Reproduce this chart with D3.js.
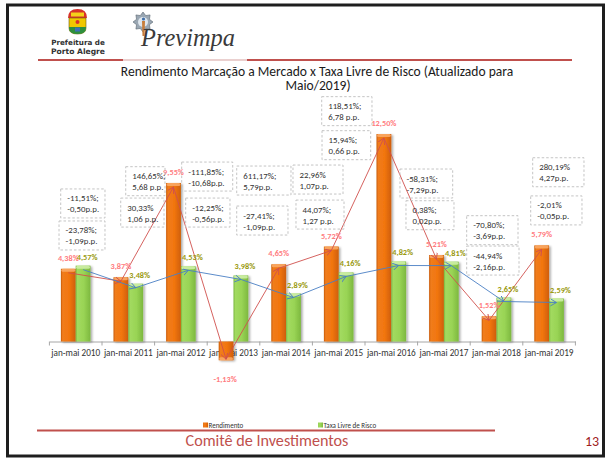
<!DOCTYPE html>
<html><head><meta charset="utf-8">
<script src="https://cdn.jsdelivr.net/npm/d3@7"></script>
<style>body{margin:0;background:#fff}svg{display:block}</style>
</head><body>
<svg id="c" width="610" height="461"></svg>
<script>
// ---------- data ----------
const categories = ["jan-mai 2010","jan-mai 2011","jan-mai 2012","jan-mai 2013","jan-mai 2014","jan-mai 2015","jan-mai 2016","jan-mai 2017","jan-mai 2018","jan-mai 2019"];
const rendimento = [4.38, 3.87, 9.55, -1.13, 4.65, 5.72, 12.50, 5.21, 1.52, 5.79];
const taxaLivre  = [4.57, 3.48, 4.53, 3.98, 2.89, 4.16, 4.82, 4.81, 2.65, 2.59];
const rendLabels = ["4,38%","3,87%","9,55%","-1,13%","4,65%","5,72%","12,50%","5,21%","1,52%","5,79%"];
const taxaLabels = ["4,57%","3,48%","4,53%","3,98%","2,89%","4,16%","4,82%","4,81%","2,65%","2,59%"];
const seriesNames = ["Rendimento","Taxa Livre de Risco"];
const chgRendimento = [["-11,51%;","-0,50p.p."],["146,65%;","5,68 p.p."],["-111,85%;","-10,68p.p."],["611,17%;","5,79p.p."],["22,96%","1,07p.p."],["118,51%;","6,78 p.p."],["-58,31%;","-7,29p.p."],["-70,80%;","-3,69p.p."],["280,19%","4,27p.p."]];
const chgTaxa = [["-23,78%;","-1,09p.p."],["30,33%","1,06 p.p."],["-12,25%;","-0,56p.p."],["-27,41%;","-1,09p.p."],["44,07%;","1,27 p.p."],["15,94%;","0,66 p.p."],["0,38%;","0,02p.p."],["-44,94%","-2,16p.p."],["-2,01%","-0,05p.p."]];
const titleLines = ["Rendimento Marcação a Mercado x Taxa Livre de Risco (Atualizado para","Maio/2019)"];
const footerText = "Comitê de Investimentos";
const pageNumber = "13";

// annotation anchors in chart units: [category start, category end, value at top]
const annotRendLayout = [[0.215,1.057,9.19],[1.451,2.198,10.53],[2.515,3.485,10.81],[3.561,4.593,10.57],[4.631,5.582,10.63],[5.177,6.133,14.75],[6.665,7.667,10.39],[7.933,8.909,7.58],[9.188,10.163,11.07]];
const annotTaxaLayout = [[0.183,1.057,7.26],[1.356,2.179,8.64],[2.591,3.433,8.64],[3.561,4.536,8.16],[4.688,5.601,8.52],[5.183,6.108,12.70],[6.779,7.692,8.48],[7.933,8.928,5.75],[9.150,10.125,8.77]];

// ---------- setup ----------
const FONT = "Carlito, Calibri, Lato, sans-serif";
const svg = d3.select("#c");
const defs = svg.append("defs");

function grad(id, stops){
  const g = defs.append("linearGradient").attr("id", id).attr("x1","0").attr("x2","1").attr("y1","0").attr("y2","0");
  stops.forEach(s => g.append("stop").attr("offset", s[0]).attr("stop-color", s[1]));
}
grad("gO", [["0%","#c85a06"],["12%","#f07c1c"],["55%","#f2760f"],["100%","#cf5e06"]]);
grad("gG", [["0%","#78b53d"],["12%","#a2da60"],["55%","#99d455"],["100%","#7db83f"]]);
const f = defs.append("filter").attr("id","sh").attr("x","-30%").attr("y","-10%").attr("width","170%").attr("height","130%");
f.append("feDropShadow").attr("dx",1.6).attr("dy",1).attr("stdDeviation",1).attr("flood-color","#000").attr("flood-opacity",0.35);

function marker(id, color){
  defs.append("marker").attr("id", id).attr("markerUnits","userSpaceOnUse")
    .attr("markerWidth",10).attr("markerHeight",10).attr("refX",6).attr("refY",3.5).attr("orient","auto")
    .append("path").attr("d","M0,0 L6,3.5 L0,7").attr("fill","none").attr("stroke",color).attr("stroke-width",0.9);
}
marker("arR", "#d0504d");
marker("arB", "#4a7fc4");

// ---------- frame / header ----------
svg.append("rect").attr("x",7.5).attr("y",5).attr("width",596).attr("height",451)
  .attr("fill","#fff").attr("stroke","#1e1e1e").attr("stroke-width",3);

// Porto Alegre crest
const crest = svg.append("g");
crest.append("path").attr("d","M68,18 Q68,9 77.5,9 Q87,9 87,18 Z").attr("fill","#d7322a");
crest.append("rect").attr("x",71).attr("y",12.5).attr("width",13).attr("height",4).attr("fill","#f4d01a");
crest.append("path").attr("d","M69,18 L86,18 L86,28 Q86,34 77.5,34 Q69,34 69,28 Z").attr("fill","#f0c800").attr("stroke","#6b5a10").attr("stroke-width",0.6);
crest.append("path").attr("d","M69,27 L86,27 L86,28 Q86,34 77.5,34 Q69,34 69,28 Z").attr("fill","#2e8f3e");
crest.append("circle").attr("cx",77.5).attr("cy",22).attr("r",2).attr("fill","#d7322a");
crest.append("rect").attr("x",75).attr("y",27.5).attr("width",5).attr("height",4).attr("fill","#3d6fb8");
svg.append("text").attr("x",78).attr("y",45).attr("text-anchor","middle")
  .attr("font-family","DejaVu Sans, sans-serif").attr("font-weight","bold").attr("font-size",7.2).attr("fill","#333").text("Prefeitura de");
svg.append("text").attr("x",78).attr("y",54).attr("text-anchor","middle")
  .attr("font-family","DejaVu Sans, sans-serif").attr("font-weight","bold").attr("font-size",7.6).attr("fill","#333").text("Porto Alegre");

// Previmpa emblem
const em = svg.append("g");
const spikes = d3.range(16).map(i => {
  const a = i/16*2*Math.PI, r = i%2 ? 7 : 10;
  return [143 + r*Math.cos(a), 22 + r*Math.sin(a)];
});
em.append("path").attr("d", d3.line().curve(d3.curveLinearClosed)(spikes)).attr("fill","#9aa7b3").attr("stroke","#5b6670").attr("stroke-width",0.6);
em.append("circle").attr("cx",143).attr("cy",22).attr("r",5).attr("fill","#dfe7ee");
em.append("circle").attr("cx",143.5).attr("cy",19).attr("r",1.6).attr("fill","#3f6ea8");
em.append("path").attr("d","M142,21 L145,21 L144.5,36 L142.5,36 Z").attr("fill","#c77d3a");
const prev = svg.append("text").attr("x",141).attr("y",46)
  .attr("font-family","Liberation Serif, DejaVu Serif, serif").attr("font-style","italic").attr("font-size",23)
  .attr("fill","#3a3a3a").text("Previmpa");
{ const L = prev.node().getComputedTextLength(); prev.attr("font-size", 23*94/L); }

// header lines
svg.append("line").attr("x1",38).attr("x2",572).attr("y1",60).attr("y2",60).attr("stroke","#c0504d").attr("stroke-width",2);
svg.append("line").attr("x1",123).attr("x2",247).attr("y1",60).attr("y2",60).attr("stroke","#ead0cf").attr("stroke-width",2);

// title
const tl = svg.append("g").attr("font-family",FONT).attr("fill","#1a1a1a").attr("text-anchor","middle").attr("font-weight",400);
const t1 = tl.append("text").attr("x",317).attr("y",76).attr("font-size",13).text(titleLines[0]);
{ const L = t1.node().getComputedTextLength(); const fs = 13*393/L; t1.attr("font-size",fs);
  tl.append("text").attr("x",318).attr("y",90).attr("font-size",fs).text(titleLines[1]); }

// ---------- scales ----------
const x = d3.scaleBand().domain(categories).range([49.4, 575.4]).paddingInner(0).paddingOuter(0);
const xf = d3.scaleLinear().domain([0, categories.length]).range([49.4, 575.4]);
const y = d3.scaleLinear().domain([0, 12.5]).range([341.5, 134]);
const barW = 14.8;
const cx = c => x(c) + x.bandwidth()/2;

// ---------- axis (under bars, as in the reference) ----------
const ax = svg.append("g").attr("transform",`translate(0,${y(0)})`)
  .call(d3.axisBottom(x).tickSize(0).tickPadding(8));
ax.select(".domain").attr("stroke","#a6a6a6").attr("stroke-width",1);
ax.selectAll("text").attr("font-family",FONT).attr("font-size",9.2).attr("fill","#333");
d3.range(categories.length + 1).forEach(i => {
  ax.append("line").attr("x1",xf(i)).attr("x2",xf(i)).attr("y1",0).attr("y2",4).attr("stroke","#a6a6a6");
});

// ---------- bars ----------
const gBars = svg.append("g");
function drawBars(values, fillId, capColor, dx){
  const g = gBars.append("g");
  categories.forEach((c,i) => {
    const v = values[i];
    const x0 = cx(c) + dx;
    const top = Math.min(y(v), y(0)), h = Math.abs(y(v) - y(0));
    g.append("rect").attr("x",x0).attr("y",top).attr("width",barW).attr("height",h)
      .attr("fill",`url(#${fillId})`).attr("filter","url(#sh)");
    const capY = v >= 0 ? top : top + h - 3;
    g.append("rect").attr("x",x0+0.5).attr("y",capY).attr("width",barW-1).attr("height",3).attr("rx",1.5)
      .attr("fill",capColor).attr("opacity",0.9);
  });
}
drawBars(rendimento, "gO", "#f9a865", -barW);
drawBars(taxaLivre, "gG", "#cdeea6", 0);
ax.select(".domain").raise();

// ---------- trend arrows ----------
function arrows(values, dx, color, mk){
  const pts = categories.map((c,i) => [cx(c) + dx, y(values[i]) + (values[i] >= 0 ? 4 : -1)]);
  const g = svg.append("g");
  for (let i = 0; i < pts.length - 1; i++){
    g.append("line").attr("x1",pts[i][0]).attr("y1",pts[i][1]).attr("x2",pts[i+1][0]).attr("y2",pts[i+1][1])
      .attr("stroke",color).attr("stroke-width",0.9).attr("marker-end",`url(#${mk})`);
  }
}
arrows(rendimento, -barW/2, "#d0504d", "arR");
arrows(taxaLivre, barW/2, "#4a7fc4", "arB");

// ---------- value labels ----------
const gl = svg.append("g").attr("font-family",FONT).attr("font-weight","bold").attr("font-size",8.3).attr("text-anchor","middle");
categories.forEach((c,i) => {
  const v = rendimento[i];
  gl.append("text").attr("x", cx(c) - barW/2 - (v < 0 ? 1 : 0)).attr("y", v >= 0 ? y(v) - 8 : y(v) + 22)
    .attr("fill","#ff7c80").text(rendLabels[i]);
  gl.append("text").attr("x", cx(c) + barW/2 + 4).attr("y", y(taxaLivre[i]) - 6)
    .attr("fill","#9a9a10").text(taxaLabels[i]);
});

// ---------- change annotation boxes ----------
const boxH = 29;
function boxes(texts, layout){
  const g = svg.append("g").attr("font-family",FONT).attr("font-size",8.8).attr("fill","#333");
  texts.forEach((t,i) => {
    const [a,b,v] = layout[i];
    const x0 = xf(a), x1 = xf(b), top = y(v);
    g.append("rect").attr("x",x0).attr("y",top).attr("width",x1-x0).attr("height",boxH)
      .attr("fill","none").attr("stroke","#bdbdbd").attr("stroke-width",0.9).attr("stroke-dasharray","2.5,2");
    t.forEach((line,k) => g.append("text").attr("x",x0+6.5).attr("y",top+12.5+k*11).text(line));
  });
}
boxes(chgRendimento, annotRendLayout);
boxes(chgTaxa, annotTaxaLayout);

// ---------- legend ----------
const lg = svg.append("g").attr("font-family",FONT).attr("font-size",7).attr("fill","#333");
[["gO",203,seriesNames[0]],["gG",318,seriesNames[1]]].forEach(d => {
  lg.append("rect").attr("x",d[1]).attr("y",422.5).attr("width",5).attr("height",5).attr("fill",`url(#${d[0]})`);
  lg.append("text").attr("x",d[1]+5.5).attr("y",427.5).text(d[2]);
});

// ---------- footer ----------
svg.append("line").attr("x1",37).attr("x2",495).attr("y1",430.5).attr("y2",430.5).attr("stroke","#c0504d").attr("stroke-width",2);
const ft = svg.append("text").attr("x",267).attr("y",446).attr("text-anchor","middle")
  .attr("font-family",FONT).attr("font-size",16).attr("fill","#c0504d").text(footerText);
{ const L = ft.node().getComputedTextLength(); ft.attr("font-size", 16*163/L); }
svg.append("text").attr("x",592).attr("y",446).attr("text-anchor","middle")
  .attr("font-family",FONT).attr("font-size",14).attr("fill","#a0201c").text(pageNumber);
</script>
</body></html>
